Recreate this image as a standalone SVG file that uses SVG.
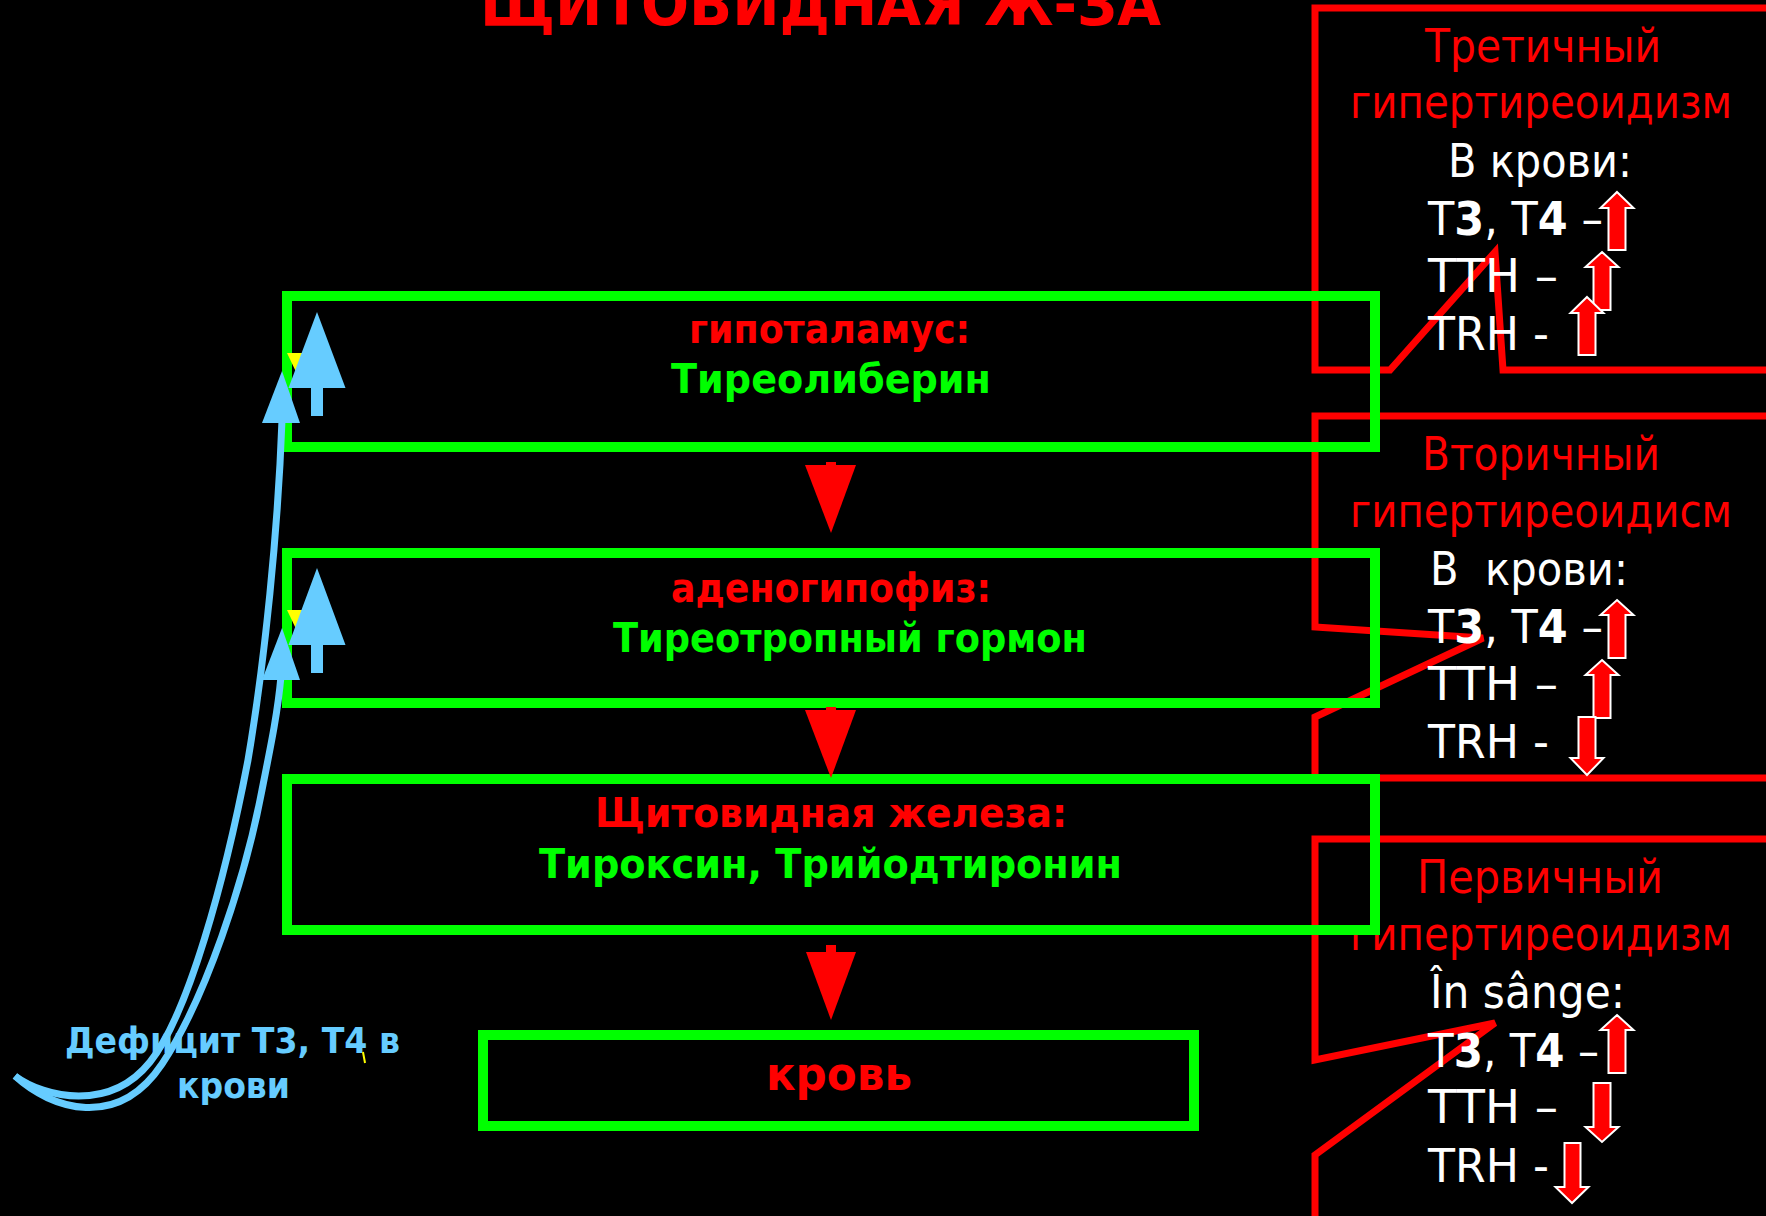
<svg xmlns="http://www.w3.org/2000/svg" width="1766" height="1216" viewBox="0 0 1766 1216">
  <defs>
    <style>
      .box { fill: none; stroke: #00FF00; stroke-width: 10; }
      .callout { fill: none; stroke: #FF0000; stroke-width: 7; stroke-linejoin: miter; }
      .flow { fill: #FF0000; }
      .mark { fill: #FF0000; stroke: #FFFFFF; stroke-width: 2; }
      .blue { fill: #66CCFF; }
      .yellow { fill: #FFFF00; }
      .loop { fill: none; stroke: #66CCFF; stroke-width: 7; stroke-linecap: butt; }
      .lbl { font-family: "DejaVu Sans", Verdana, sans-serif; font-weight: bold; font-size: 40px; }
      .red { fill: #FF0000; }
      .grn { fill: #00FF00; }
      .pan { font-family: "DejaVu Sans", Verdana, sans-serif; font-size: 46px; }
      .wht { fill: #FFFFFF; }
      .b { font-weight: bold; }
    </style>
  </defs>

  <rect x="0" y="0" width="1766" height="1216" fill="#000000"/>

  <!-- title -->
  <text x="480" y="25" class="lbl red" style="font-size:60px" textLength="681" lengthAdjust="spacingAndGlyphs">ЩИТОВИДНАЯ Ж-ЗА</text>

  <!-- tertiary callout -->
  <g id="tertiary">
    <path class="callout" d="M1315,8 H1780 V370 H1503 L1495,252 L1390,370 H1315 Z"/>
    <text x="1425" y="62" class="pan red" textLength="236" lengthAdjust="spacingAndGlyphs">Третичный</text>
    <text x="1350" y="118" class="pan red" textLength="382" lengthAdjust="spacingAndGlyphs">гипертиреоидизм</text>
    <text x="1448" y="177" class="pan wht" textLength="184" lengthAdjust="spacingAndGlyphs">В крови:</text>
    <text x="1428" y="235" class="pan wht" textLength="175" lengthAdjust="spacingAndGlyphs">Т<tspan class="b">3</tspan>, Т<tspan class="b">4</tspan> –</text>
    <text x="1428" y="292" class="pan wht" textLength="130" lengthAdjust="spacingAndGlyphs">ТТН –</text>
    <text x="1428" y="350" class="pan wht" textLength="121" lengthAdjust="spacingAndGlyphs">TRH -</text>
    <polygon class="mark" points="1617,192 1633.5,208 1625.5,208 1625.5,250 1608.5,250 1608.5,208 1600.5,208"/>
    <polygon class="mark" points="1602,252 1618.5,267 1610.5,267 1610.5,310 1593.5,310 1593.5,267 1585.5,267"/>
    <polygon class="mark" points="1587,297 1603.5,313 1595.5,313 1595.5,355 1578.5,355 1578.5,313 1570.5,313"/>
  </g>

  <!-- secondary callout -->
  <g id="secondary">
    <path class="callout" d="M1315,416 H1780 V778 H1315 V717 L1483,638 L1315,627 Z"/>
    <text x="1422" y="470" class="pan red" textLength="238" lengthAdjust="spacingAndGlyphs">Вторичный</text>
    <text x="1350" y="527" class="pan red" textLength="382" lengthAdjust="spacingAndGlyphs">гипертиреоидисм</text>
    <text x="1430" y="585" class="pan wht" textLength="198" lengthAdjust="spacingAndGlyphs" xml:space="preserve">В  крови:</text>
    <text x="1428" y="643" class="pan wht" textLength="175" lengthAdjust="spacingAndGlyphs">Т<tspan class="b">3</tspan>, Т<tspan class="b">4</tspan> –</text>
    <text x="1428" y="700" class="pan wht" textLength="130" lengthAdjust="spacingAndGlyphs">ТТН –</text>
    <text x="1428" y="758" class="pan wht" textLength="121" lengthAdjust="spacingAndGlyphs">TRH -</text>
    <polygon class="mark" points="1617,600 1633.5,615 1625.5,615 1625.5,658 1608.5,658 1608.5,615 1600.5,615"/>
    <polygon class="mark" points="1602,660 1618.5,675 1610.5,675 1610.5,718 1593.5,718 1593.5,675 1585.5,675"/>
    <polygon class="mark" points="1578.5,717 1595.5,717 1595.5,758 1603.5,758 1587,775 1570.5,758 1578.5,758"/>
  </g>

  <!-- primary callout -->
  <g id="primary">
    <path class="callout" d="M1315,839 H1780 V1222 H1315 V1155 L1495,1023 L1315,1060 Z"/>
    <text x="1417" y="893" class="pan red" textLength="246" lengthAdjust="spacingAndGlyphs">Первичный</text>
    <text x="1350" y="950" class="pan red" textLength="382" lengthAdjust="spacingAndGlyphs">гипертиреоидизм</text>
    <text x="1430" y="1008" class="pan wht" textLength="195" lengthAdjust="spacingAndGlyphs">În sânge:</text>
    <text x="1428" y="1067" class="pan wht" textLength="171" lengthAdjust="spacingAndGlyphs">Т<tspan class="b">3</tspan>, Т<tspan class="b">4</tspan> –</text>
    <text x="1428" y="1123" class="pan wht" textLength="130" lengthAdjust="spacingAndGlyphs">ТТН –</text>
    <text x="1428" y="1182" class="pan wht" textLength="121" lengthAdjust="spacingAndGlyphs">TRH -</text>
    <polygon class="mark" points="1617,1015 1633.5,1030 1625.5,1030 1625.5,1073 1608.5,1073 1608.5,1030 1600.5,1030"/>
    <polygon class="mark" points="1593.5,1083 1610.5,1083 1610.5,1127 1618.5,1127 1602,1142 1585.5,1127 1593.5,1127"/>
    <polygon class="mark" points="1564.5,1143 1580.5,1143 1580.5,1187 1588.5,1187 1572,1203 1555.5,1187 1564.5,1187"/>
  </g>

  <!-- hypothalamus -->
  <g id="hypothalamus">
    <rect class="box" x="287" y="296" width="1088" height="151"/>
    <text x="689" y="343" class="lbl red" textLength="281" lengthAdjust="spacingAndGlyphs">гипоталамус:</text>
    <text x="671" y="393" class="lbl grn" textLength="320" lengthAdjust="spacingAndGlyphs">Тиреолиберин</text>
  </g>

  <!-- adenohypophysis -->
  <g id="adenohypophysis">
    <rect class="box" x="287" y="553" width="1088" height="150"/>
    <text x="671" y="602" class="lbl red" textLength="320" lengthAdjust="spacingAndGlyphs">аденогипофиз:</text>
    <text x="613" y="652" class="lbl grn" textLength="474" lengthAdjust="spacingAndGlyphs">Тиреотропный гормон</text>
  </g>

  <!-- thyroid -->
  <g id="thyroid">
    <rect class="box" x="287" y="779" width="1088" height="151"/>
    <text x="595" y="827" class="lbl red" textLength="472" lengthAdjust="spacingAndGlyphs">Щитовидная железа:</text>
    <text x="539" y="878" class="lbl grn" textLength="583" lengthAdjust="spacingAndGlyphs">Тироксин, Трийодтиронин</text>
  </g>

  <!-- blood -->
  <g id="blood">
    <rect class="box" x="483" y="1035" width="711" height="91"/>
    <text x="766" y="1090" class="lbl red" style="font-size:46px" textLength="146" lengthAdjust="spacingAndGlyphs">кровь</text>
  </g>

  <!-- deficit label -->
  <g id="deficit">
    <text x="65" y="1053" class="lbl" style="font-size:36px; fill:#66CCFF" textLength="335" lengthAdjust="spacingAndGlyphs">Дефицит Т3, Т4 в</text>
    <text x="177" y="1098" class="lbl" style="font-size:36px; fill:#66CCFF" textLength="113" lengthAdjust="spacingAndGlyphs">крови</text>
    <path d="M363,1052 L365,1063" stroke="#FFFF00" stroke-width="2" fill="none"/>
  </g>

  <!-- connectors -->
  <g id="connectors">
    <!-- downward flow arrows -->
    <rect class="flow" x="826" y="462" width="10" height="4"/>
    <polygon class="flow" points="805,465 856,465 831,533"/>
    <rect class="flow" x="826" y="707" width="10" height="4"/>
    <polygon class="flow" points="805,710 856,710 831,778"/>
    <rect class="flow" x="826" y="945" width="10" height="8"/>
    <polygon class="flow" points="806,952 856,952 831,1020"/>

    <!-- feedback loops -->
    <path class="loop" d="M15,1076 C45,1098 110,1112 150,1062 C188,1015 225,880 248,760 C265,660 278,530 282,420"/>
    <path class="loop" d="M15,1076 C52,1110 118,1130 162,1064 C205,1000 245,880 262,790 C272,740 278,710 281,676"/>
    <polygon class="blue" points="282,371 300,423 262,423"/>
    <polygon class="blue" points="282,628 300,680 262,680"/>

    <!-- stimulation marks inside boxes -->
    <polygon class="yellow" points="287,353 310,353 298,376"/>
    <polygon class="blue" points="317,312 345.5,388 323,388 323,416 311,416 311,388 288.5,388"/>
    <polygon class="yellow" points="287,610 310,610 298,633"/>
    <polygon class="blue" points="317,568 345.5,645 323,645 323,673 311,673 311,645 288.5,645"/>
  </g>
</svg>
